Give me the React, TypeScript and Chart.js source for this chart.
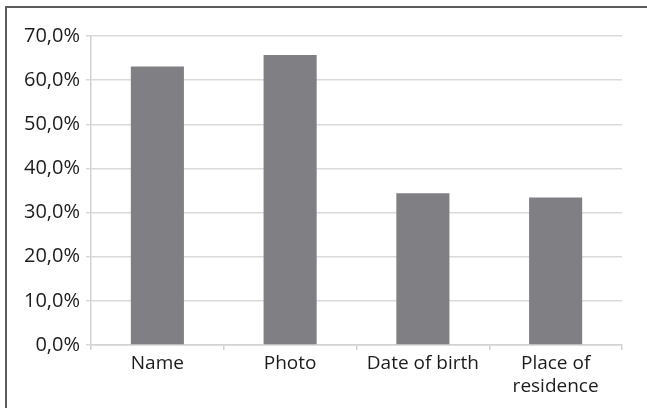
import React, { useEffect, useRef } from "react";
import { Chart, registerables } from "chart.js";

Chart.register(...registerables);

const categories: (string | string[])[] = ["Name", "Photo", "Date of birth", ["Place of", "residence"]];
const shares: number[] = [63.1, 65.7, 34.4, 33.4];
const yTicks: number[] = [0, 10, 20, 30, 40, 50, 60, 70];

const W = 647;
const H = 408;

export default function App() {
  const ref = useRef<HTMLCanvasElement | null>(null);

  useEffect(() => {
    document.body.style.margin = "0";
    const canvas = ref.current;
    if (!canvas) return;
    const fontFamily = "'Open Sans', 'Noto Sans', sans-serif";
    const chart = new Chart(canvas, {
      type: "bar",
      data: {
        labels: categories,
        datasets: [
          {
            data: shares,
            backgroundColor: "#808084",
            borderWidth: 0,
            categoryPercentage: 1,
            barPercentage: 0.4,
          },
        ],
      },
      options: {
        responsive: false,
        animation: false,
        devicePixelRatio: 1,
        layout: { padding: { left: 0, right: 25, top: 36, bottom: 0 } },
        plugins: { legend: { display: false }, tooltip: { enabled: false } },
        scales: {
          x: {
            offset: true,
            grid: {
              offset: true,
              drawOnChartArea: false,
              drawTicks: true,
              tickLength: 5,
              color: "#d2d2d2",
              lineWidth: 1.5,
            },
            border: { display: true, color: "#d2d2d2", width: 1.5 },
            ticks: {
              color: "#1c1c1c",
              font: { family: fontFamily, size: 19 },
              padding: 2,
              maxRotation: 0,
              autoSkip: false,
            },
            afterFit: (scale: any) => {
              scale.height = H - 345;
            },
          },
          y: {
            min: 0,
            max: 70,
            afterBuildTicks: (scale: any) => {
              scale.ticks = yTicks.map((v) => ({ value: v }));
            },
            grid: {
              color: "#dadada",
              lineWidth: 1.5,
              drawTicks: true,
              tickLength: 5,
            },
            border: { display: true, color: "#d2d2d2", width: 1.5 },
            ticks: {
              color: "#1c1c1c",
              font: { family: fontFamily, size: 20 },
              padding: 6,
              callback: (v: any) => Number(v).toFixed(1).replace(".", ",") + "%",
            },
            afterFit: (scale: any) => {
              scale.width = 91;
            },
          },
        },
      },
    });
    return () => chart.destroy();
  }, []);

  return (
    <div style={{ position: "fixed", left: 0, top: 0, width: W, height: H, overflow: "hidden", background: "#fff" }}>
      <canvas ref={ref} width={W} height={H} style={{ width: W, height: H, display: "block" }} />
      <div
        style={{
          position: "absolute",
          left: 5,
          top: 6,
          width: W + 40,
          height: H + 40,
          border: "2px solid #5c5c5c",
          pointerEvents: "none",
        }}
      />
    </div>
  );
}
